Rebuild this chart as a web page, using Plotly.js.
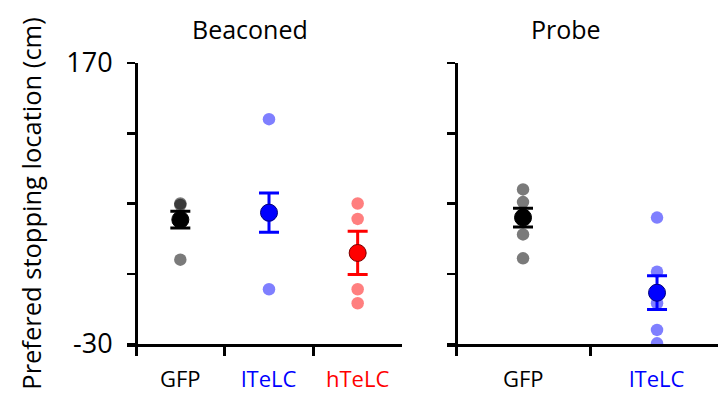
<!DOCTYPE html>
<html>
<head>
<meta charset="utf-8">
<script src="https://cdn.plot.ly/plotly-3.0.1.min.js"></script>
<style>html,body{margin:0;padding:0;background:#fff;}#chart{width:718px;height:397px;}</style>
</head>
<body>
<div id="chart"></div>
<script>
// ---- data ----
var panelTitles = ["Beaconed", "Probe"];
var beaconedGroups = ["GFP", "lTeLC", "hTeLC"];
var probeGroups = ["GFP", "lTeLC"];
var groupColors = {GFP: "#000000", lTeLC: "#0000ff", hTeLC: "#ff0000"};
var dotColors = {GFP: "rgba(0,0,0,0.52)", lTeLC: "rgba(0,0,255,0.5)", hTeLC: "rgba(255,0,0,0.5)"};
var meanEdge = {GFP: "#000000", lTeLC: "#00007a", hTeLC: "#7a0000"};

var beaconedGFP = [70, 69, 58, 30];
var beaconedLTeLC = [130, 61, 9];
var beaconedHTeLC = [70, 59, 9, -1];
var beaconedMeans = [58.5, 63.5, 34.8];
var beaconedSEM = [6, 14, 15.4];

var probeGFP = [80, 71, 62, 48, 31];
var probeLTeLC = [60, 21.5, -1, -20, -29.5];
var probeMeans = [60, 6.5];
var probeSEM = [6.7, 12];

var yTickVals = [-30, 20, 70, 120, 170];
var yTickText = ["-30", "", "", "", "170"];
var yTitle = "Prefered stopping location (cm)";

var FONT = "Open Sans, Noto Sans, sans-serif";

var traces = [];
function addGroup(values, idx, name, mean, sem, xa, ya) {
  traces.push({
    type: "scatter", mode: "markers", xaxis: xa, yaxis: ya,
    x: values.map(function(){ return idx; }), y: values,
    marker: {size: 12.5, color: dotColors[name], line: {width: 0}},
    hoverinfo: "skip", showlegend: false, cliponaxis: true
  });
  traces.push({
    type: "scatter", mode: "markers", xaxis: xa, yaxis: ya,
    x: [idx], y: [mean],
    error_y: {type: "data", array: [sem], visible: true, color: groupColors[name], thickness: 3, width: 10},
    marker: {size: 17, color: groupColors[name], line: {width: 1, color: meanEdge[name]}},
    hoverinfo: "skip", showlegend: false
  });
}
var bVals = [beaconedGFP, beaconedLTeLC, beaconedHTeLC];
beaconedGroups.forEach(function(g, i){ addGroup(bVals[i], i, g, beaconedMeans[i], beaconedSEM[i], "x", "y"); });
var pVals = [probeGFP, probeLTeLC];
probeGroups.forEach(function(g, i){ addGroup(pVals[i], i, g, probeMeans[i], probeSEM[i], "x2", "y2"); });

var annotations = [];
beaconedGroups.forEach(function(g, i){
  annotations.push({xref: "x", yref: "paper", x: i, y: -0.121, text: g, showarrow: false,
    font: {family: FONT, size: 22, color: groupColors[g]}, xanchor: "center", yanchor: "middle"});
});
probeGroups.forEach(function(g, i){
  annotations.push({xref: "x2", yref: "paper", x: i, y: -0.121, text: g, showarrow: false,
    font: {family: FONT, size: 22, color: groupColors[g]}, xanchor: "center", yanchor: "middle"});
});
annotations.push({xref: "paper", yref: "paper", x: 0.2073, y: 1.121, text: panelTitles[0], showarrow: false,
  font: {family: FONT, size: 25, color: "#000"}, xanchor: "center", yanchor: "middle"});
annotations.push({xref: "paper", yref: "paper", x: 0.7428, y: 1.121, text: panelTitles[1], showarrow: false,
  font: {family: FONT, size: 25, color: "#000"}, xanchor: "center", yanchor: "middle"});

function xAxis(domain, range, anchor) {
  return {domain: domain, range: range, anchor: anchor, showline: true, linewidth: 3, linecolor: "#000",
    tickmode: "array", tickvals: [-0.5, 0.5, 1.5], ticks: "outside", ticklen: 9, tickwidth: 3, tickcolor: "#000",
    showticklabels: false, showgrid: false, zeroline: false, fixedrange: true};
}
function yAxis(position, labels) {
  var a = {domain: [0, 1], range: [-30, 170], anchor: "free", position: position, showline: true, linewidth: 2.5,
    linecolor: "#000", tickmode: "array", tickvals: yTickVals, ticktext: yTickText, ticks: "outside",
    ticklen: 8, tickwidth: 2.5, tickcolor: "#000", showticklabels: labels, showgrid: false, zeroline: false,
    tickfont: {family: FONT, size: 27, color: "#000"}, ticklabelstandoff: 9, fixedrange: true};
  return a;
}

var layout = {
  width: 718, height: 397,
  margin: {l: 127, r: 0, t: 63, b: 53, autoexpand: false},
  paper_bgcolor: "#fff", plot_bgcolor: "rgba(0,0,0,0)",
  showlegend: false,
  xaxis: xAxis([0, 0.4653], [-0.6015, 2.5], "y"),
  yaxis: yAxis(0.01523, true),
  xaxis2: xAxis([0.541, 1], [-0.5694, 1.455], "y2"),
  yaxis2: yAxis(0.5567, false),
  annotations: annotations
};
layout.yaxis.title = {text: yTitle, font: {family: FONT, size: 25.5, color: "#000"}, standoff: 16};

Plotly.newPlot("chart", traces, layout, {displayModeBar: false, staticPlot: true});
</script>
</body>
</html>
